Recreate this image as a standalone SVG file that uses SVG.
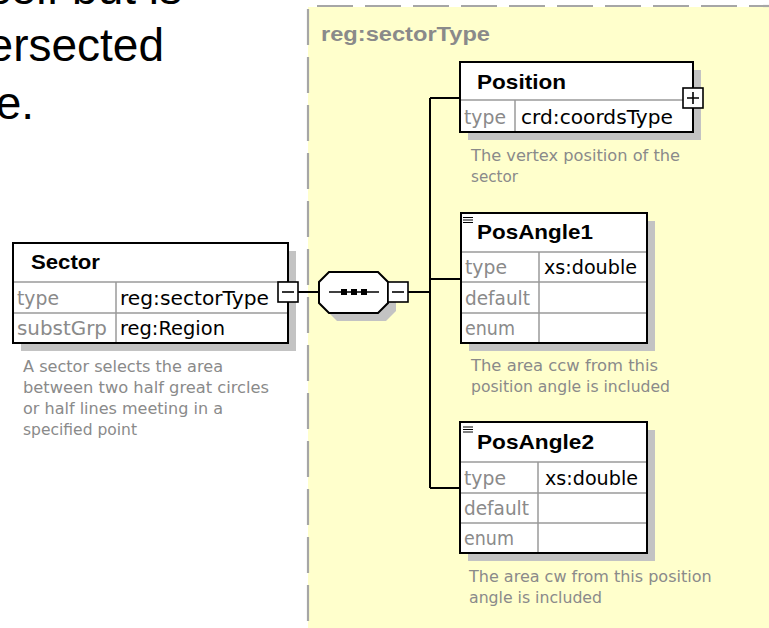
<svg xmlns="http://www.w3.org/2000/svg" width="769" height="628" viewBox="0 0 769 628">
  <style>
    .box { fill: #ffffff; stroke: #000000; stroke-width: 2; }
    .shadow { fill: #c3c3c3; stroke: none; }
    .div { stroke: #9a9a9a; stroke-width: 1.5; fill: none; }
    .wire { stroke: #000000; stroke-width: 2; fill: none; }
    .title { font-family: "Liberation Sans", Arial, sans-serif; font-weight: bold; font-size: 21px; fill: #000000; }
    .label { font-family: "DejaVu Sans", "Liberation Sans", sans-serif; font-size: 19px; fill: #8a8a8a; }
    .value { font-family: "DejaVu Sans", "Liberation Sans", sans-serif; font-size: 19px; fill: #000000; }
    .doc { font-family: "DejaVu Sans", "Liberation Sans", sans-serif; font-size: 16px; fill: #8a8a8a; }
    .big { font-family: "Liberation Sans", Arial, sans-serif; font-size: 46px; fill: #000000; }
    .frame { stroke: #a6a6a6; stroke-width: 2.2; fill: none; stroke-dasharray: 36 12; }
    .ctl { fill: #ffffff; stroke: #000000; stroke-width: 1.6; }
    .sign { stroke: #000000; stroke-width: 1.6; fill: none; }
  </style>
  <defs>
    <g id="listIcon">
      <path d="M0,0 H10 M0,2.5 H10 M0,5 H10" stroke="#000" stroke-width="1.2" fill="none"/>
    </g>
  </defs>

  <rect x="0" y="0" width="769" height="628" fill="#ffffff"/>

  <!-- slide text clipped at the left edge -->
  <g id="slide-text">
    <text class="big" x="182" y="4" text-anchor="end">self but is</text>
    <text class="big" x="164" y="61" text-anchor="end">ersected</text>
    <text class="big" x="34" y="119" text-anchor="end">e.</text>
  </g>

  <!-- complex type area -->
  <g id="type-area">
    <rect x="308" y="7" width="461" height="621" fill="#ffffcc"/>
    <path class="frame" d="M317,6 H769"/>
    <path class="frame" d="M308,9 V628"/>
    <text x="321" y="41" font-family="Liberation Sans, Arial, sans-serif" font-weight="bold" font-size="20px" fill="#8a8a8a" textLength="169" lengthAdjust="spacingAndGlyphs">reg:sectorType</text>
  </g>

  <!-- connectors -->
  <g id="connectors">
    <path class="wire" d="M298,292 H319"/>
    <path class="wire" d="M408,292 H430"/>
    <path class="wire" d="M430,98 V488"/>
    <path class="wire" d="M430,98 H460"/>
    <path class="wire" d="M430,279 H461"/>
    <path class="wire" d="M430,488 H460"/>
  </g>

  <!-- element Sector -->
  <g id="node-sector">
    <rect class="shadow" x="21" y="251" width="275" height="100"/>
    <rect class="box" x="13" y="243" width="275" height="100"/>
    <path class="div" d="M14,282 H287 M14,313 H287 M116,282 V342"/>
    <text class="title" x="31" y="269" textLength="69" lengthAdjust="spacingAndGlyphs">Sector</text>
    <text class="label" x="17" y="305" textLength="42" lengthAdjust="spacingAndGlyphs">type</text>
    <text class="value" x="120" y="305" textLength="149" lengthAdjust="spacingAndGlyphs">reg:sectorType</text>
    <text class="label" x="17" y="335" textLength="90" lengthAdjust="spacingAndGlyphs">substGrp</text>
    <text class="value" x="120" y="335" textLength="105" lengthAdjust="spacingAndGlyphs">reg:Region</text>
    <rect class="ctl" x="278" y="282" width="20" height="20"/>
    <path class="sign" d="M282,292 H294"/>
    <text class="doc" x="23" y="372" textLength="200" lengthAdjust="spacingAndGlyphs">A sector selects the area</text>
    <text class="doc" x="23" y="393" textLength="246" lengthAdjust="spacingAndGlyphs">between two half great circles</text>
    <text class="doc" x="23" y="414" textLength="200" lengthAdjust="spacingAndGlyphs">or half lines meeting in a</text>
    <text class="doc" x="23" y="435" textLength="114" lengthAdjust="spacingAndGlyphs">specified point</text>
  </g>

  <!-- sequence compositor -->
  <g id="node-sequence">
    <path class="shadow" d="M337,280 H386 L396,290 V311 L386,321 H337 L327,311 V290 Z"/>
    <path class="box" d="M329,272 H378 L388,282 V303 L378,313 H329 L319,303 V282 Z"/>
    <path d="M329,292 H379" stroke="#000" stroke-width="1.6"/>
    <rect x="341" y="289" width="6" height="6" fill="#000"/>
    <rect x="351" y="289" width="6" height="6" fill="#000"/>
    <rect x="361" y="289" width="6" height="6" fill="#000"/>
    <rect class="ctl" x="388" y="282" width="20" height="20"/>
    <path class="sign" d="M392,292 H404"/>
  </g>

  <!-- element Position -->
  <g id="node-position">
    <rect class="shadow" x="468" y="70" width="233" height="70"/>
    <rect class="box" x="460" y="62" width="233" height="70"/>
    <path class="div" d="M461,100 H692 M515,100 V131"/>
    <text class="title" x="477" y="89" textLength="89" lengthAdjust="spacingAndGlyphs">Position</text>
    <text class="label" x="464" y="124" textLength="42" lengthAdjust="spacingAndGlyphs">type</text>
    <text class="value" x="521" y="124" textLength="152" lengthAdjust="spacingAndGlyphs">crd:coordsType</text>
    <rect class="ctl" x="683" y="88" width="20" height="20"/>
    <path class="sign" d="M687,98 H699 M693,92 V104"/>
    <text class="doc" x="471" y="161" textLength="209" lengthAdjust="spacingAndGlyphs">The vertex position of the</text>
    <text class="doc" x="471" y="182" textLength="47" lengthAdjust="spacingAndGlyphs">sector</text>
  </g>

  <!-- element PosAngle1 -->
  <g id="node-posangle1">
    <rect class="shadow" x="469" y="221" width="186" height="130"/>
    <rect class="box" x="461" y="213" width="186" height="130"/>
    <path class="div" d="M462,252 H646 M462,282 H646 M462,313 H646 M539,252 V342"/>
    <use href="#listIcon" x="463" y="217.5"/>
    <text class="title" x="477" y="239" textLength="116" lengthAdjust="spacingAndGlyphs">PosAngle1</text>
    <text class="label" x="465" y="274" textLength="42" lengthAdjust="spacingAndGlyphs">type</text>
    <text class="value" x="544" y="274" textLength="93" lengthAdjust="spacingAndGlyphs">xs:double</text>
    <text class="label" x="465" y="305" textLength="65" lengthAdjust="spacingAndGlyphs">default</text>
    <text class="label" x="465" y="335" textLength="50" lengthAdjust="spacingAndGlyphs">enum</text>
    <text class="doc" x="471" y="371" textLength="187" lengthAdjust="spacingAndGlyphs">The area ccw from this</text>
    <text class="doc" x="471" y="392" textLength="199" lengthAdjust="spacingAndGlyphs">position angle is included</text>
  </g>

  <!-- element PosAngle2 -->
  <g id="node-posangle2">
    <rect class="shadow" x="468" y="430" width="187" height="131"/>
    <rect class="box" x="460" y="422" width="187" height="131"/>
    <path class="div" d="M461,462 H646 M461,493 H646 M461,523 H646 M538,462 V552"/>
    <use href="#listIcon" x="463" y="427"/>
    <text class="title" x="477" y="449" textLength="117" lengthAdjust="spacingAndGlyphs">PosAngle2</text>
    <text class="label" x="464" y="485" textLength="42" lengthAdjust="spacingAndGlyphs">type</text>
    <text class="value" x="545" y="485" textLength="93" lengthAdjust="spacingAndGlyphs">xs:double</text>
    <text class="label" x="464" y="515" textLength="65" lengthAdjust="spacingAndGlyphs">default</text>
    <text class="label" x="464" y="545" textLength="50" lengthAdjust="spacingAndGlyphs">enum</text>
    <text class="doc" x="469" y="582">The area cw from this position</text>
    <text class="doc" x="469" y="603" textLength="133" lengthAdjust="spacingAndGlyphs">angle is included</text>
  </g>
</svg>
